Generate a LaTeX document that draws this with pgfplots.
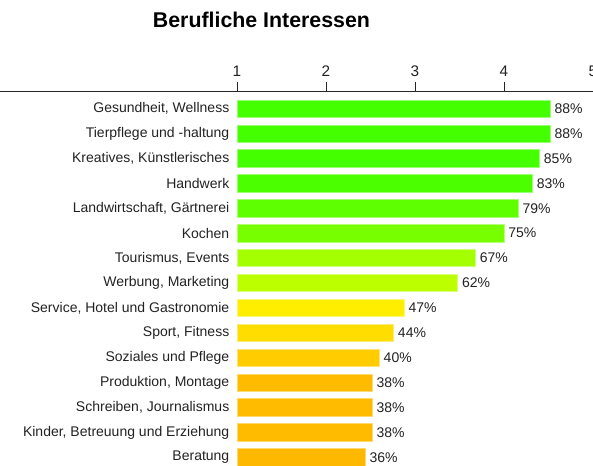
\documentclass[border=0pt]{standalone}
\usepackage{fontspec}
\setmainfont{Liberation Sans}
\usepackage{pgfplots}
\pgfplotsset{compat=1.18}
\definecolor{ca}{HTML}{44FF00}
\definecolor{cb}{HTML}{4CFF00}
\definecolor{cc}{HTML}{5EFF00}
\definecolor{cd}{HTML}{77FF00}
\definecolor{ce}{HTML}{A4FF00}
\definecolor{cf}{HTML}{BBFF00}
\definecolor{cg}{HTML}{FFEE00}
\definecolor{ch}{HTML}{FFDD00}
\definecolor{ci}{HTML}{FFCC00}
\definecolor{cj}{HTML}{FFBB00}
\definecolor{ck}{HTML}{FFB800}
\definecolor{txt}{HTML}{222222}
\begin{document}
\begin{tikzpicture}
\begin{axis}[
  at={(0,0)}, anchor=south west,
  scale only axis,
  x=66.75pt, y=18.675pt,
  xmin=-2.663, xmax=4,
  ymin=-0.31, ymax=14.683,
  axis x line*=top,
  axis y line*=left,
  y axis line style={draw=none},
  x axis line style={black!85, line width=0.9pt, -},
  xtick={0,1,2,3,4}, xticklabels={1,2,3,4,5},
  tick align=outside,
  major tick length=7.5pt,
  xtick style={black!85, line width=0.75pt},
  ytick={0,...,14},
  ytick style={draw=none},
  yticklabels={Beratung,{Kinder, Betreuung und Erziehung},{Schreiben, Journalismus},{Produktion, Montage},Soziales und Pflege,{Sport, Fitness},{Service, Hotel und Gastronomie},{Werbung, Marketing},{Tourismus, Events},Kochen,{Landwirtschaft, Gärtnerei},Handwerk,{Kreatives, Künstlerisches},Tierpflege und -haltung,{Gesundheit, Wellness}},
  yticklabel style={anchor=east, xshift=183pt, font=\fontsize{10.5}{12}\selectfont, text=txt},
  xticklabel style={font=\fontsize{11.5}{13}\selectfont, text=txt},
  /pgf/number format/assume math mode=true,
  xbar, bar width=13pt, bar shift=0pt,
  nodes near coords, point meta=explicit symbolic,
  nodes near coords style={anchor=west, font=\fontsize{10.5}{12}\selectfont, text=txt, inner sep=3pt},
]
\addplot[fill=ca, draw=ca!55!white, line width=0.5pt] coordinates {(3.52,14) [88\%]};
\addplot[fill=ca, draw=ca!55!white, line width=0.5pt] coordinates {(3.52,13) [88\%]};
\addplot[fill=ca, draw=ca!55!white, line width=0.5pt] coordinates {(3.40,12) [85\%]};
\addplot[fill=cb, draw=cb!55!white, line width=0.5pt] coordinates {(3.32,11) [83\%]};
\addplot[fill=cc, draw=cc!55!white, line width=0.5pt] coordinates {(3.16,10) [79\%]};
\addplot[fill=cd, draw=cd!55!white, line width=0.5pt] coordinates {(3.00,9) [75\%]};
\addplot[fill=ce, draw=ce!55!white, line width=0.5pt] coordinates {(2.68,8) [67\%]};
\addplot[fill=cf, draw=cf!55!white, line width=0.5pt] coordinates {(2.48,7) [62\%]};
\addplot[fill=cg, draw=cg!55!white, line width=0.5pt] coordinates {(1.88,6) [47\%]};
\addplot[fill=ch, draw=ch!55!white, line width=0.5pt] coordinates {(1.76,5) [44\%]};
\addplot[fill=ci, draw=ci!55!white, line width=0.5pt] coordinates {(1.60,4) [40\%]};
\addplot[fill=cj, draw=cj!55!white, line width=0.5pt] coordinates {(1.52,3) [38\%]};
\addplot[fill=cj, draw=cj!55!white, line width=0.5pt] coordinates {(1.52,2) [38\%]};
\addplot[fill=cj, draw=cj!55!white, line width=0.5pt] coordinates {(1.52,1) [38\%]};
\addplot[fill=ck, draw=ck!55!white, line width=0.5pt] coordinates {(1.44,0) [36\%]};
\end{axis}
\node[font=\bfseries\fontsize{16}{19}\selectfont, text=black] at (196.1pt,333.75pt) {Berufliche Interessen};
\pgfresetboundingbox
\useasboundingbox (0,0) rectangle (444.75pt,348.75pt);
\end{tikzpicture}
\end{document}
